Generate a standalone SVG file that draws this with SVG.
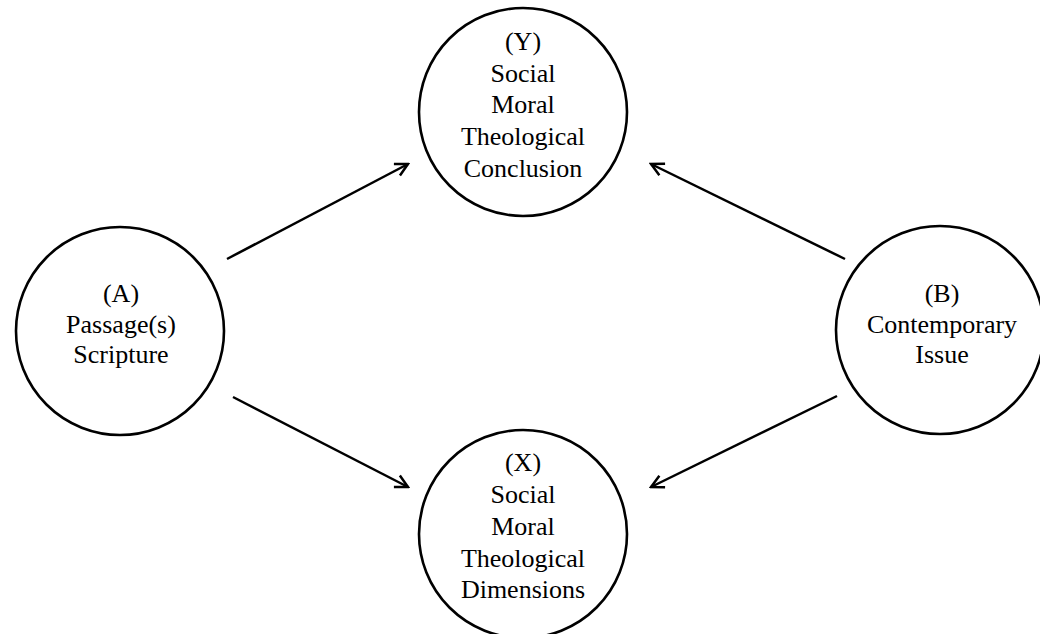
<svg xmlns="http://www.w3.org/2000/svg" width="1040" height="634" viewBox="0 0 1040 634">
  <defs>
    <style>
      .node { fill: #ffffff; stroke: #000000; stroke-width: 2.6; }
      .label { font-family: "Liberation Serif", "Times New Roman", serif; font-size: 26px; fill: #000000; text-anchor: middle; }
      .edge { stroke: #000000; stroke-width: 2.5; fill: none; marker-end: url(#chevron); }
    </style>
    <marker id="chevron" viewBox="0 0 16 16" refX="14" refY="8" markerWidth="16" markerHeight="16" markerUnits="userSpaceOnUse" orient="auto">
      <path d="M1.5,1.5 L14,8 L1.5,14.5" fill="none" stroke="#000000" stroke-width="2.5"/>
    </marker>
  </defs>
  <rect width="1040" height="634" fill="#ffffff"/>

  <g id="connectors">
    <line class="edge" x1="227" y1="259" x2="408" y2="164"/>
    <line class="edge" x1="845" y1="259" x2="651" y2="164"/>
    <line class="edge" x1="233" y1="397" x2="408" y2="487"/>
    <line class="edge" x1="837" y1="396" x2="651" y2="487"/>
  </g>

  <g id="node-Y">
    <circle class="node" cx="523" cy="112" r="104"/>
    <text class="label" x="523" y="50">(Y)</text>
    <text class="label" x="523" y="82">Social</text>
    <text class="label" x="523" y="113">Moral</text>
    <text class="label" x="523" y="145">Theological</text>
    <text class="label" x="523" y="177">Conclusion</text>
  </g>

  <g id="node-A">
    <circle class="node" cx="120" cy="331" r="104"/>
    <text class="label" x="121" y="302">(A)</text>
    <text class="label" x="121" y="333">Passage(s)</text>
    <text class="label" x="121" y="363">Scripture</text>
  </g>

  <g id="node-B">
    <circle class="node" cx="940" cy="330" r="104"/>
    <text class="label" x="942" y="302">(B)</text>
    <text class="label" x="942" y="333">Contemporary</text>
    <text class="label" x="942" y="363">Issue</text>
  </g>

  <g id="node-X">
    <circle class="node" cx="523" cy="534" r="104"/>
    <text class="label" x="523" y="471">(X)</text>
    <text class="label" x="523" y="503">Social</text>
    <text class="label" x="523" y="535">Moral</text>
    <text class="label" x="523" y="567">Theological</text>
    <text class="label" x="523" y="598">Dimensions</text>
  </g>
</svg>
